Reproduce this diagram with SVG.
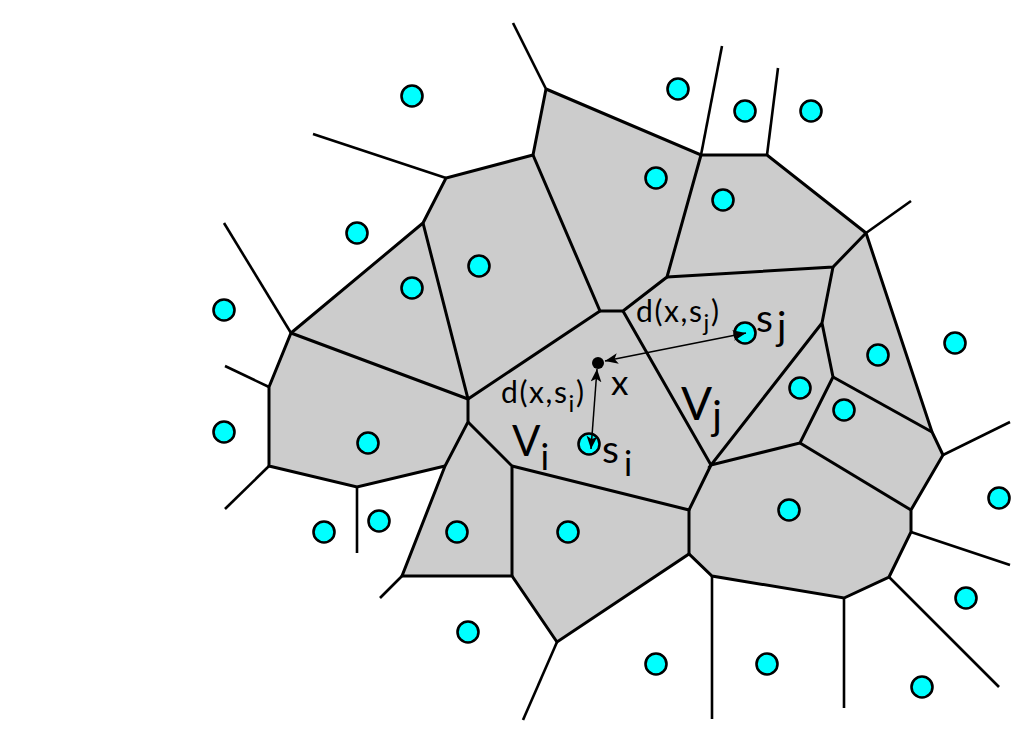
<svg xmlns="http://www.w3.org/2000/svg" width="1034" height="729" viewBox="0 0 1034 729">
<defs>
<style>
.e{stroke:#000;stroke-width:3;fill:none;stroke-linecap:butt;stroke-linejoin:miter}
.r{stroke:#000;stroke-width:2.6;fill:none}
.s{fill:#00ffff;stroke:#000;stroke-width:2.6}
.a{stroke:#000;stroke-width:1.5;fill:none}
.t{font-family:Lato,"Open Sans","DejaVu Sans",sans-serif;fill:#000}
.d{letter-spacing:1.6px}
</style>
<marker id="ah" viewBox="0 0 12 10" refX="12" refY="5" markerWidth="13" markerHeight="11" markerUnits="userSpaceOnUse" orient="auto-start-reverse">
<path d="M0,0 L12,5 L0,10 L3,5 z" fill="#000"/>
</marker>
</defs>
<rect width="1034" height="729" fill="#fff"/>
<g id="cells">
<polygon fill="#cccccc" stroke="none" points="546,89 701,155 767,155 866,233 932,432 943,455 911,510 911,532 889,577 844,598 712,576 689,554 557,642 512,576 402,576 445,466 357,487 269,466 269,387 291,333 423,223 446,178 533,155"/>
</g>
<g id="edges">
<path class="e" d="M546,89 L533,155 L446,178 L423,223 L291,333 L269,387 L269,466 L357,487 L445,466"/>
<path class="e" d="M546,89 L701,155 L767,155 L866,233 L932,432 L943,455 L911,510 L911,532 L889,577 L844,598 L712,576 L689,554 L557,642 L512,576 L402,576 L445,466 L468,422 L468,399 L423,223"/>
<path class="e" d="M533,155 L600,311 L623,311 L667,277 L701,155"/>
<path class="e" d="M291,333 L468,399 L600,311"/>
<path class="e" d="M468,422 L512,466 L512,576"/>
<path class="e" d="M512,466 L689,510 L689,554"/>
<path class="e" d="M689,510 L711,465 L623,311"/>
<path class="e" d="M667,277 L833,267 L866,233"/>
<path class="e" d="M833,267 L822,323 L833,377 L800,443 L711,465 L822,323"/>
<path class="e" d="M833,377 L932,432"/>
<path class="e" d="M800,443 L911,510"/>
</g>
<g id="rays">
<path class="r" d="M546,89 L513,23"/>
<path class="r" d="M446,178 L313,134"/>
<path class="r" d="M701,155 L722,46"/>
<path class="r" d="M767,155 L778,68"/>
<path class="r" d="M866,233 L911,201"/>
<path class="r" d="M291,333 L224,223"/>
<path class="r" d="M269,387 L225,366"/>
<path class="r" d="M269,466 L225,509"/>
<path class="r" d="M357,487 L357,553"/>
<path class="r" d="M402,576 L380,598"/>
<path class="r" d="M557,642 L523,720"/>
<path class="r" d="M712,576 L712,719"/>
<path class="r" d="M844,598 L844,708"/>
<path class="r" d="M889,577 L999,687"/>
<path class="r" d="M911,532 L1010,565"/>
<path class="r" d="M943,455 L1010,422"/>
</g>
<g id="sites">
<circle class="s" cx="412" cy="96" r="10.5"/>
<circle class="s" cx="678" cy="89" r="10.5"/>
<circle class="s" cx="745" cy="111" r="10.5"/>
<circle class="s" cx="811" cy="111" r="10.5"/>
<circle class="s" cx="357" cy="233" r="10.5"/>
<circle class="s" cx="656" cy="178" r="10.5"/>
<circle class="s" cx="723" cy="200" r="10.5"/>
<circle class="s" cx="479" cy="266" r="10.5"/>
<circle class="s" cx="412" cy="288" r="10.5"/>
<circle class="s" cx="224" cy="310" r="10.5"/>
<circle class="s" cx="224" cy="432" r="10.5"/>
<circle class="s" cx="368" cy="443" r="10.5"/>
<circle class="s" cx="324" cy="532" r="10.5"/>
<circle class="s" cx="379" cy="521" r="10.5"/>
<circle class="s" cx="457" cy="532" r="10.5"/>
<circle class="s" cx="568" cy="532" r="10.5"/>
<circle class="s" cx="468" cy="632" r="10.5"/>
<circle class="s" cx="656" cy="664" r="10.5"/>
<circle class="s" cx="767" cy="664" r="10.5"/>
<circle class="s" cx="922" cy="687" r="10.5"/>
<circle class="s" cx="966" cy="598" r="10.5"/>
<circle class="s" cx="999" cy="498" r="10.5"/>
<circle class="s" cx="789" cy="510" r="10.5"/>
<circle class="s" cx="955" cy="343" r="10.5"/>
<circle class="s" cx="878" cy="355" r="10.5"/>
<circle class="s" cx="800" cy="388" r="10.5"/>
<circle class="s" cx="844" cy="410" r="10.5"/>
<circle class="s" cx="745" cy="333" r="10.5"/>
<circle class="s" cx="589" cy="444" r="10.5"/>
</g>
<g id="point-x">
<circle cx="598" cy="363" r="6" fill="#000"/>
</g>
<g id="connectors">
<line class="a" x1="605" y1="361" x2="746" y2="333" marker-start="url(#ah)" marker-end="url(#ah)"/>
<line class="a" x1="597" y1="369" x2="591" y2="449" marker-start="url(#ah)" marker-end="url(#ah)"/>
</g>
<g id="labels" class="t">
<text class="d" x="636" y="322" font-size="30">d(x,s<tspan font-size="24" dy="9">j</tspan><tspan dy="-9">)</tspan></text>
<text class="d" x="501" y="403" font-size="30">d(x,s<tspan font-size="24" dy="9">i</tspan><tspan dy="-9">)</tspan></text>
<text x="611" y="395" font-size="35">x</text>
<text x="756" y="332" font-size="39">s<tspan dx="4" dy="8">j</tspan></text>
<text x="602" y="463" font-size="39">s<tspan dx="5" dy="13" font-size="34">i</tspan></text>
<text x="512" y="456" font-size="42">V<tspan dy="14" font-size="36">i</tspan></text>
<text x="681" y="420" font-size="46">V<tspan dy="10" font-size="40">j</tspan></text>
</g>
</svg>
